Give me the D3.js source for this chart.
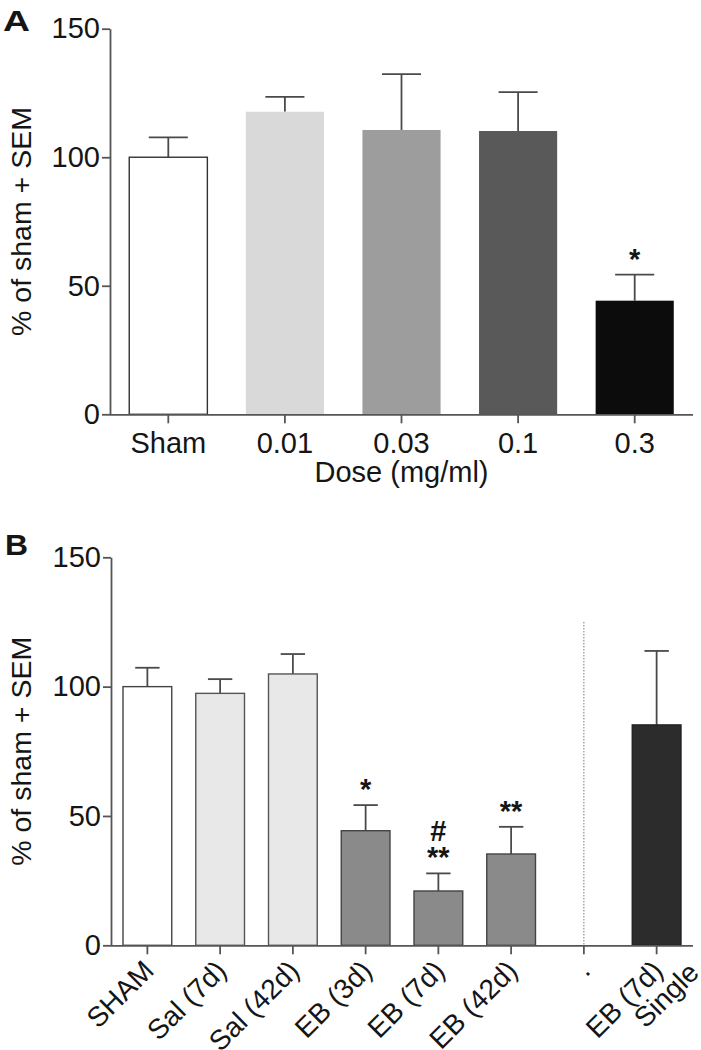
<!DOCTYPE html>
<html><head><meta charset="utf-8">
<script src="https://cdn.jsdelivr.net/npm/d3@7"></script>
<style>
body{margin:0;background:#fff;}
text{font-family:"Liberation Sans", Arial, Helvetica, sans-serif;fill:#151515;}
</style>
</head><body>
<svg id="chart" width="701" height="1050"></svg>
<script>
// ---------- DATA ----------
const yTicks = [0, 50, 100, 150];

const catsA = ["Sham", "0.01", "0.03", "0.1", "0.3"];
const valsA = [100, 117.7, 110.6, 110.2, 44.2];
const semA  = [7.7, 5.8, 21.7, 15.1, 10.1];
const fillA = ["#ffffff", "#d9d9d9", "#9d9d9d", "#595959", "#0c0c0c"];
const strokeA = ["#333333", "none", "none", "none", "none"];
const annA  = ["", "", "", "", "*"];
const titleXA = "Dose (mg/ml)";

const catsB = ["SHAM", "Sal (7d)", "Sal (42d)", "EB (3d)", "EB (7d)", "EB (42d)", ".", "EB (7d)|Single"];
const valsB = [100, 97.4, 104.9, 44.3, 21.0, 35.3, null, 85.2];
const semB  = [7.3, 5.5, 7.7, 9.9, 6.8, 10.5, null, 28.6];
const fillB = ["#ffffff", "#e8e8e8", "#e8e8e8", "#8a8a8a", "#8a8a8a", "#8a8a8a", "none", "#2c2c2c"];
const strokeB = ["#444444", "#555555", "#555555", "#444444", "#444444", "#444444", "none", "#222222"];
const annB  = ["", "", "", "*", "#|**", "**", "", ""];
const dividerCat = ".";
const dividerTop = 125;

const yTitle = "% of sham + SEM";

// ---------- DRAW ----------
const svg = d3.select("#chart");
const AX = "#555";
const FS = "29px";

function panel(cfg) {
  const g = svg.append("g");
  const y = d3.scaleLinear().domain([0, 150]).range([cfg.y0, cfg.y1]);
  const x = d3.scaleBand().domain(cfg.cats).range([cfg.x0, cfg.x1])
              .paddingInner(0.33).paddingOuter(0.165);
  const bw = x.bandwidth();
  const cx = c => x(c) + bw / 2;

  const data = cfg.cats.map((c, i) => ({c, v: cfg.vals[i], s: cfg.sem[i], f: cfg.fill[i], st: cfg.stroke[i], a: cfg.ann[i]}));
  const withBar = data.filter(d => d.v != null);

  // error bars (+SEM only)
  const eb = g.append("g");
  eb.selectAll("line.v").data(withBar).join("line")
    .attr("x1", d => cx(d.c)).attr("x2", d => cx(d.c))
    .attr("y1", d => y(d.v)).attr("y2", d => y(d.v + d.s))
    .attr("stroke", "#4a4a4a").attr("stroke-width", 1.8);
  eb.selectAll("line.h").data(withBar).join("line")
    .attr("x1", d => cx(d.c) - bw / 4).attr("x2", d => cx(d.c) + bw / 4)
    .attr("y1", d => y(d.v + d.s)).attr("y2", d => y(d.v + d.s))
    .attr("stroke", "#4a4a4a").attr("stroke-width", 1.8);

  // bars
  g.append("g").selectAll("rect").data(withBar).join("rect")
    .attr("x", d => x(d.c)).attr("width", bw)
    .attr("y", d => y(d.v)).attr("height", d => y(0) - y(d.v))
    .attr("fill", d => d.f)
    .attr("stroke", d => d.st).attr("stroke-width", 1.4);

  // divider
  if (cfg.divider) {
    g.append("line")
      .attr("x1", cx(cfg.divider)).attr("x2", cx(cfg.divider))
      .attr("y1", y(cfg.dividerTop)).attr("y2", y(0))
      .attr("stroke", "#777").attr("stroke-width", 1).attr("stroke-dasharray", "1.5,1.5");
  }

  // annotations
  const ann = g.append("g");
  withBar.filter(d => d.a).forEach(d => {
    const lines = d.a.split("|").reverse();
    const base = y(d.v + d.s) - 6;
    lines.forEach((t, k) => {
      ann.append("text")
        .attr("x", cx(d.c)).attr("y", base - k * 26)
        .attr("text-anchor", "middle")
        .style("font-size", FS)
        .style("font-weight", "bold")
        .text(t);
    });
  });

  // y axis
  const ya = g.append("g").attr("transform", `translate(${cfg.x0},0)`)
    .call(d3.axisLeft(y).tickValues(yTicks).tickSize(8).tickSizeOuter(0).tickPadding(2));
  ya.selectAll("path,line").attr("stroke", AX).attr("stroke-width", 1.8);
  ya.selectAll("text").style("font-size", FS).attr("fill", "#151515").attr("font-family", null);

  // x axis
  const xa = g.append("g").attr("transform", `translate(0,${cfg.y0})`)
    .call(d3.axisBottom(x).tickSize(9).tickSizeOuter(0).tickFormat(""));
  xa.select("path").attr("d", `M${cfg.x0},0.5H${cfg.x1}`);
  xa.selectAll("path,line").attr("stroke", AX).attr("stroke-width", 1.8);

  // x labels
  const lab = g.append("g");
  if (!cfg.rotate) {
    cfg.cats.forEach(c => {
      lab.append("text").attr("x", cx(c)).attr("y", cfg.y0 + 38.5)
        .attr("text-anchor", "middle").style("font-size", FS).text(c);
    });
  } else {
    cfg.cats.forEach(c => {
      const parts = c.split("|");
      const ax = cx(c) + 8, ay = cfg.y0 + 27;
      lab.append("text")
        .attr("transform", `translate(${ax},${ay}) rotate(-45)`)
        .attr("text-anchor", "end").style("font-size", "28px").text(parts[0]);
      if (parts[1]) {
        lab.append("text")
          .attr("transform", `translate(${ax + 36},${ay + 2}) rotate(-45)`)
          .attr("text-anchor", "end").style("font-size", "28px").text(parts[1]);
      }
    });
  }

  // x title
  if (cfg.xTitle) {
    g.append("text").attr("x", (cfg.x0 + cfg.x1) / 2).attr("y", cfg.y0 + 67.5)
      .attr("text-anchor", "middle").style("font-size", FS).text(cfg.xTitle);
  }

  // y title
  g.append("text")
    .attr("transform", `translate(31,${(cfg.y0 + cfg.y1) / 2}) rotate(-90)`)
    .attr("text-anchor", "middle").style("font-size", "28.5px").text(yTitle);

  // panel letter
  g.append("text").attr("x", cfg.letterX).attr("y", cfg.letterY)
    .style("font-size", "30px").style("font-weight", "bold")
    .attr("textLength", cfg.letterW).attr("lengthAdjust", "spacingAndGlyphs")
    .text(cfg.letter);
}

panel({cats: catsA, vals: valsA, sem: semA, fill: fillA, stroke: strokeA, ann: annA,
       x0: 110, x1: 693, y0: 414.3, y1: 28.7, rotate: false, xTitle: titleXA,
       letter: "A", letterX: 3, letterY: 30.5, letterW: 27});
panel({cats: catsB, vals: valsB, sem: semB, fill: fillB, stroke: strokeB, ann: annB,
       x0: 111, x1: 693, y0: 945.3, y1: 557.3, rotate: true,
       divider: dividerCat, dividerTop: dividerTop,
       letter: "B", letterX: 5, letterY: 555, letterW: 23});
</script>
</body></html>
